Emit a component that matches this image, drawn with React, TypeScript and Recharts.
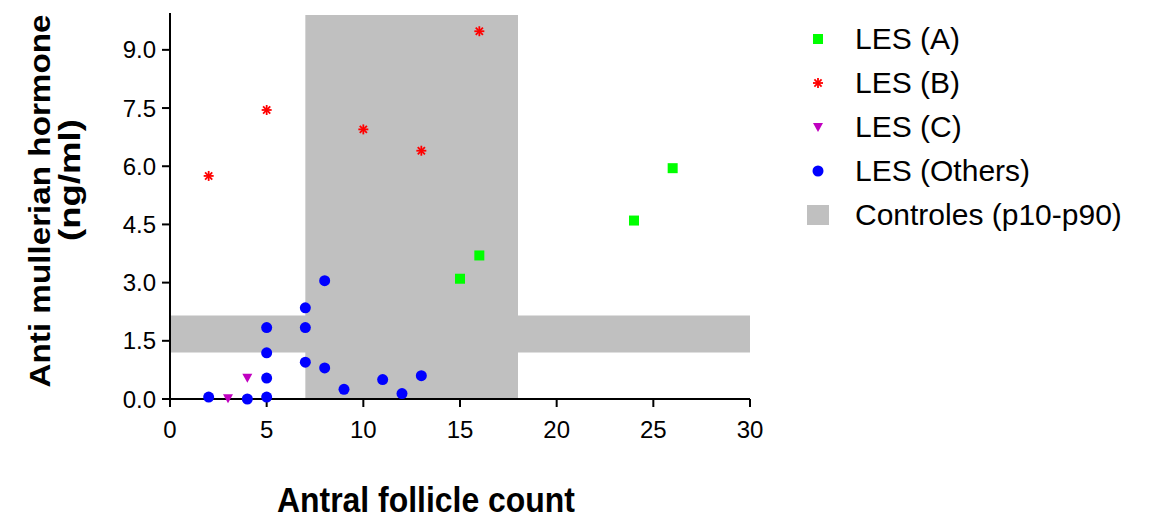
import { ScatterChart, Scatter, XAxis, YAxis, ReferenceArea, Legend } from 'recharts';

// antral follicle count (x) vs AMH ng/ml (y)
const lesA = [
  { afc: 15, amh: 3.1 },
  { afc: 16, amh: 3.7 },
  { afc: 24, amh: 4.6 },
  { afc: 26, amh: 5.95 },
];
const lesB = [
  { afc: 2, amh: 5.75 },
  { afc: 5, amh: 7.45 },
  { afc: 10, amh: 6.95 },
  { afc: 13, amh: 6.4 },
  { afc: 16, amh: 9.48 },
];
const lesC = [
  { afc: 3, amh: 0.02 },
  { afc: 4, amh: 0.55 },
];
const lesOthers = [
  { afc: 2, amh: 0.05 },
  { afc: 4, amh: 0.0 },
  { afc: 5, amh: 0.05 },
  { afc: 5, amh: 0.54 },
  { afc: 5, amh: 1.19 },
  { afc: 5, amh: 1.84 },
  { afc: 7, amh: 0.95 },
  { afc: 7, amh: 1.84 },
  { afc: 7, amh: 2.35 },
  { afc: 8, amh: 3.05 },
  { afc: 8, amh: 0.8 },
  { afc: 9, amh: 0.25 },
  { afc: 11, amh: 0.5 },
  { afc: 12, amh: 0.14 },
  { afc: 13, amh: 0.6 },
];
// controls p10-p90
const controlAfc = [7, 18];
const controlAmh = [1.2, 2.15];
const controlTop = 9.9;

const xTicks = [0, 5, 10, 15, 20, 25, 30];
const yTicks = [0, 1.5, 3, 4.5, 6, 7.5, 9];

const FONT = '"Liberation Sans", Arial, sans-serif';

const GREEN = '#00ff00';
const RED = '#ff0000';
const PURPLE = '#c000c0';
const BLUE = '#0000ff';
const GREY = '#c0c0c0';

const SquareDot = (p: any) => (
  <rect x={p.cx - 5} y={p.cy - 5} width={10} height={10} fill={GREEN} />
);

const StarDot = (p: any) => {
  const { cx, cy } = p;
  const r = 5;
  const d = 3.6;
  return (
    <g stroke={RED} strokeWidth={1.8}>
      <line x1={cx - r} y1={cy} x2={cx + r} y2={cy} />
      <line x1={cx} y1={cy - r} x2={cx} y2={cy + r} />
      <line x1={cx - d} y1={cy - d} x2={cx + d} y2={cy + d} />
      <line x1={cx - d} y1={cy + d} x2={cx + d} y2={cy - d} />
    </g>
  );
};

const TriDot = (p: any) => (
  <polygon
    points={`${p.cx - 5},${p.cy - 4} ${p.cx + 5},${p.cy - 4} ${p.cx},${p.cy + 5}`}
    fill={PURPLE}
  />
);

const CircleDot = (p: any) => <circle cx={p.cx} cy={p.cy} r={5.5} fill={BLUE} />;

const legendItems = [
  { name: 'LES (A)', mark: <rect x={6} y={6} width={10} height={10} fill={GREEN} /> },
  { name: 'LES (B)', mark: <StarDot cx={11} cy={11} /> },
  { name: 'LES (C)', mark: <TriDot cx={11} cy={11} /> },
  { name: 'LES (Others)', mark: <CircleDot cx={11} cy={11} /> },
  { name: 'Controles (p10-p90)', mark: <rect x={0} y={1} width={23} height={20} fill={GREY} /> },
];

const renderLegend = () => (
  <div style={{ fontFamily: FONT, fontSize: 30, color: '#000' }}>
    {legendItems.map((it) => (
      <div key={it.name} style={{ display: 'flex', alignItems: 'center', height: 44 }}>
        <svg width={22} height={22} style={{ marginRight: 26 }}>
          {it.mark}
        </svg>
        <span>{it.name}</span>
      </div>
    ))}
  </div>
);

const XTitle = (props: any) => {
  const vb = props.viewBox;
  return (
    <text
      x={vb.x + vb.width / 2 - 34}
      y={vb.y + 113}
      textAnchor="middle"
      fontFamily={FONT}
      fontWeight="bold"
      fontSize={35}
      textLength={298}
      lengthAdjust="spacingAndGlyphs"
      fill="#000"
    >
      Antral follicle count
    </text>
  );
};

const YTitle = () => (
  <g fontFamily={FONT} fontWeight="bold" fontSize={29} fill="#000">
    <text x={50} y={201} transform="rotate(-90 50 201)" textAnchor="middle" textLength={373} lengthAdjust="spacingAndGlyphs">
      Anti mullerian hormone
    </text>
    <text x={80} y={180} transform="rotate(-90 80 180)" textAnchor="middle" textLength={122} lengthAdjust="spacingAndGlyphs">
      (ng/ml)
    </text>
  </g>
);

export default function App() {
  return (
    <div style={{ position: 'absolute', left: 0, top: 0, background: '#fff' }}>
      <ScatterChart width={1153} height={519} margin={{ top: 13, right: 403, bottom: 0, left: 70 }}>
        <ReferenceArea
          x1={controlAfc[0]}
          x2={controlAfc[1]}
          y1={0}
          y2={controlTop}
          fill={GREY}
          fillOpacity={1}
          stroke="none"
        />
        <ReferenceArea
          x1={0}
          x2={30}
          y1={controlAmh[0]}
          y2={controlAmh[1]}
          fill={GREY}
          fillOpacity={1}
          stroke="none"
        />
        <XAxis
          type="number"
          dataKey="afc"
          domain={[0, 30]}
          ticks={xTicks}
          height={120}
          stroke="#000"
          strokeWidth={2}
          tickSize={8}
          tickMargin={14}
          tick={{ fill: '#000', fontSize: 24, fontFamily: FONT }}
          label={<XTitle />}
        />
        <YAxis
          type="number"
          dataKey="amh"
          domain={[0, 9.95]}
          ticks={yTicks}
          width={100}
          stroke="#000"
          strokeWidth={2}
          tickSize={8}
          tickMargin={6}
          tickFormatter={(v: number) => v.toFixed(1)}
          tick={{ fill: '#000', fontSize: 24, fontFamily: FONT }}
          label={<YTitle />}
        />
        <Legend
          layout="horizontal"
          verticalAlign="middle"
          align="center"
          content={renderLegend}
          wrapperStyle={{ left: 807, top: 17, width: 340, bottom: 'auto' }}
        />
        <Scatter name="LES (A)" data={lesA} shape={SquareDot} isAnimationActive={false} />
        <Scatter name="LES (B)" data={lesB} shape={StarDot} isAnimationActive={false} />
        <Scatter name="LES (C)" data={lesC} shape={TriDot} isAnimationActive={false} />
        <Scatter name="LES (Others)" data={lesOthers} shape={CircleDot} isAnimationActive={false} />
      </ScatterChart>
    </div>
  );
}
